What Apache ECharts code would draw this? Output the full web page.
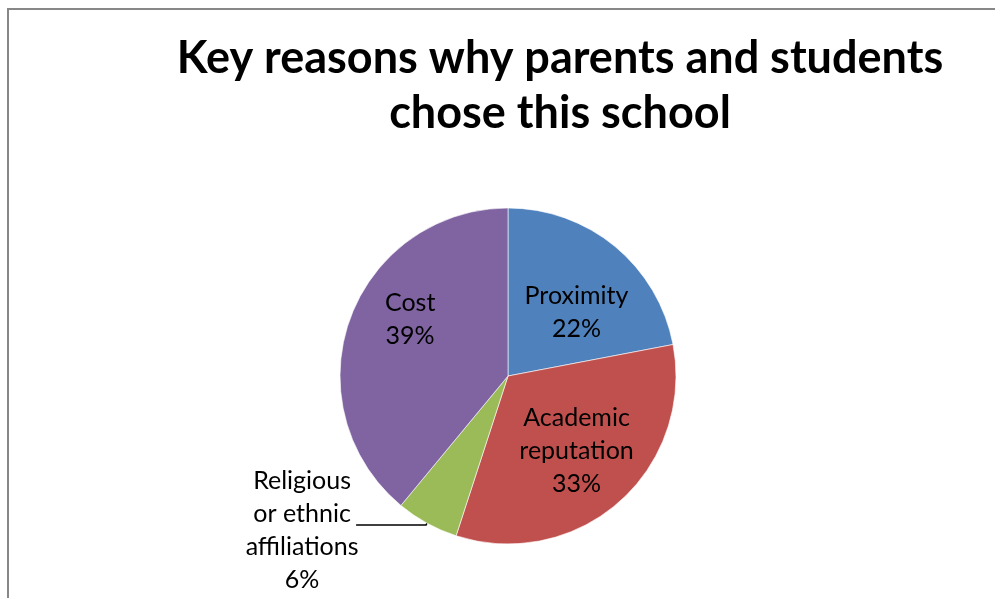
<!DOCTYPE html>
<html>
<head>
<meta charset="utf-8">
<script src="https://cdn.jsdelivr.net/npm/echarts@6/dist/echarts.min.js"></script>
<style>
  html, body { margin: 0; padding: 0; background: #fff; }
  #chart { width: 995px; height: 598px; }
</style>
</head>
<body>
<div id="chart"></div>
<script>
// Survey answers: share of responses for each reason (percent)
const reasons = ['Proximity', 'Academic reputation', 'Religious or ethnic affiliations', 'Cost'];
const shares = [22, 33, 6, 39];
// Text shown on each slice (line breaks as printed)
const labelLines = [
  ['Proximity'],
  ['Academic', 'reputation'],
  ['Religious', 'or ethnic', 'affiliations'],
  ['Cost']
];
const sliceColors = ['#4F81BD', '#C0504D', '#9BBB59', '#8064A2'];
// Nudges for the in-slice labels (px)
const labelNudge = [[13, 3], [11, 10], [0, 0], [-16, -27]];
const outsideIndex = 2;

const FONT = 'Lato, "Liberation Sans", sans-serif';

const chart = echarts.init(document.getElementById('chart'), null, { renderer: 'canvas' });

const data = reasons.map((name, i) => {
  const item = {
    name: name,
    value: shares[i],
    itemStyle: { color: sliceColors[i] }
  };
  if (i === outsideIndex) {
    item.label = {
      position: 'outside',
      alignTo: 'none',
      distanceToLabelLine: 0,
      padding: [10, 0, 0, 0],
      formatter: () => labelLines[i].concat([shares[i] + '%']).map(s => '{c|' + s + '}').join('\n'),
      rich: {
        c: { width: 108, align: 'center', fontSize: 25, lineHeight: 33, fontFamily: FONT, color: '#000' }
      }
    };
    item.labelLine = {
      show: true,
      length: 2,
      length2: 70,
      minTurnAngle: 0,
      maxSurfaceAngle: 180,
      lineStyle: { color: '#000', width: 1.5 }
    };
  } else {
    item.label = {
      position: 'inside',
      formatter: () => labelLines[i].concat([shares[i] + '%']).join('\n')
    };
    item.labelLine = { show: false };
  }
  return item;
});

chart.setOption({
  backgroundColor: '#fff',
  animation: false,
  graphic: [{
    type: 'rect',
    shape: { x: 8, y: 9, width: 1100, height: 700 },
    style: { fill: 'none', stroke: '#878787', lineWidth: 2 },
    silent: true
  }],
  title: {
    text: 'Key reasons why parents and students\nchose this school',
    left: 555,
    top: 26,
    textAlign: 'center',
    textStyle: {
      fontFamily: FONT,
      fontWeight: 'bold',
      fontSize: 45,
      lineHeight: 55,
      color: '#000'
    }
  },
  series: [{
    type: 'pie',
    center: [508, 376],
    radius: 168,
    startAngle: 90,
    clockwise: true,
    avoidLabelOverlap: false,
    itemStyle: { borderColor: '#ffffff', borderWidth: 0.6 },
    label: {
      show: true,
      color: '#000',
      fontFamily: FONT,
      fontSize: 25,
      lineHeight: 33,
      align: 'center'
    },
    emphasis: { disabled: true },
    labelLayout: function (params) {
      if (params.dataIndex === outsideIndex) return {};
      const n = labelNudge[params.dataIndex];
      return { dx: n[0], dy: n[1] };
    },
    data: data
  }]
});
</script>
</body>
</html>
